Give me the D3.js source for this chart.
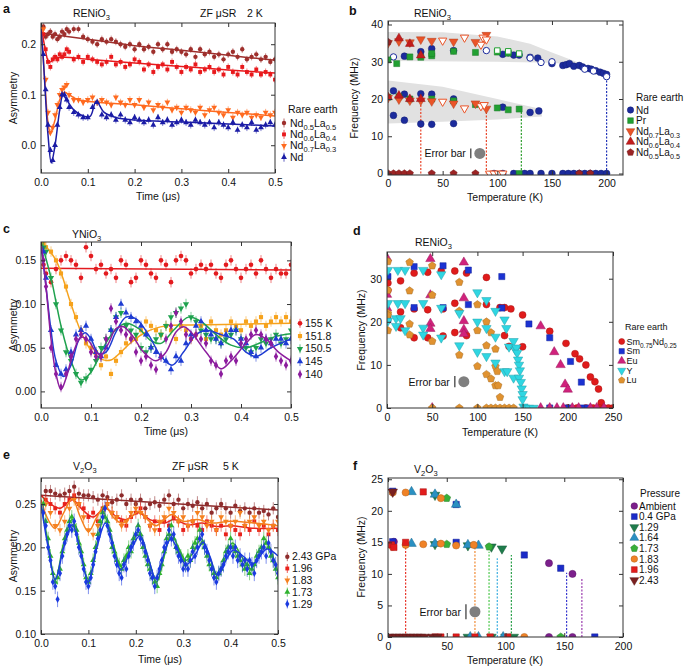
<!DOCTYPE html>
<html>
<head>
<meta charset="utf-8">
<script src="https://cdn.jsdelivr.net/npm/d3@7"></script>
<style>
  body { margin: 0; background: #fff; }
  svg { font-family: "Liberation Sans", Arial, sans-serif; }
</style>
</head>
<body>
<script>
// ---------------- data ----------------
// panel a : RENiO3 ZF muSR 2 K
var tA = [0.005,0.01,0.015,0.02,0.025,0.03,0.035,0.04,0.045,0.05,0.055,0.06,
  0.07,0.08,0.09,0.10,0.11,0.12,0.13,0.14,0.15,0.16,0.17,0.18,0.19,0.20,
  0.21,0.22,0.23,0.24,0.25,0.26,0.27,0.28,0.29,0.30,
  0.31,0.32,0.33,0.34,0.35,0.36,0.37,0.38,0.39,0.40,
  0.41,0.42,0.43,0.44,0.45,0.46,0.47,0.48,0.49,0.50];
var aNd55 = [0.235,0.215,0.22,0.225,0.215,0.22,0.21,0.215,0.225,0.22,0.23,0.225,
  0.23,0.23,0.215,0.21,0.205,0.20,0.21,0.205,0.21,0.205,0.20,0.195,0.20,0.19,
  0.20,0.19,0.195,0.185,0.20,0.19,0.20,0.185,0.19,0.185,
  0.18,0.19,0.175,0.19,0.18,0.185,0.175,0.18,0.17,0.18,
  0.185,0.175,0.19,0.17,0.175,0.18,0.17,0.175,0.165,0.17];
var aNd64 = [0.22,0.19,0.165,0.155,0.17,0.175,0.17,0.18,0.175,0.18,0.19,0.185,
  0.17,0.175,0.165,0.175,0.17,0.165,0.16,0.165,0.175,0.16,0.165,0.155,0.16,0.17,
  0.165,0.15,0.16,0.145,0.155,0.16,0.15,0.165,0.155,0.145,
  0.155,0.15,0.16,0.145,0.15,0.155,0.145,0.15,0.14,0.155,
  0.145,0.14,0.155,0.145,0.14,0.15,0.14,0.145,0.14,0.13];
var aNd73 = [0.23,0.13,0.065,0.025,0.035,0.06,0.08,0.10,0.11,0.115,0.12,0.10,
  0.09,0.09,0.085,0.09,0.095,0.085,0.09,0.085,0.08,0.095,0.085,0.08,0.09,0.08,
  0.09,0.075,0.085,0.07,0.08,0.075,0.085,0.07,0.075,0.065,
  0.075,0.07,0.065,0.075,0.06,0.07,0.075,0.065,0.06,0.07,
  0.055,0.065,0.06,0.065,0.055,0.06,0.055,0.065,0.06,0.065];
var aNd = [0.18,0.11,0.04,-0.01,-0.03,0.0,0.04,0.075,0.10,0.10,0.09,0.075,
  0.065,0.06,0.055,0.055,0.075,0.085,0.06,0.055,0.06,0.05,0.06,0.05,0.045,0.055,
  0.05,0.045,0.05,0.04,0.055,0.045,0.05,0.04,0.045,0.05,
  0.045,0.04,0.05,0.045,0.04,0.045,0.035,0.045,0.04,0.035,
  0.045,0.03,0.04,0.035,0.045,0.03,0.035,0.04,0.045,0.04];
var fitANd55 = [[0,0.222],[0.1,0.21],[0.2,0.197],[0.3,0.188],[0.4,0.178],[0.5,0.168]];
var fitANd64 = [[0,0.235],[0.005,0.21],[0.01,0.185],[0.015,0.168],[0.02,0.165],[0.03,0.172],[0.05,0.174],[0.1,0.17],[0.2,0.163],[0.3,0.156],[0.4,0.149],[0.5,0.143]];
var fitANd73 = [[0,0.232],[0.005,0.17],[0.01,0.1],[0.015,0.045],[0.02,0.025],[0.03,0.05],[0.04,0.09],[0.05,0.105],[0.06,0.1],[0.08,0.09],[0.12,0.085],[0.2,0.08],[0.3,0.072],[0.4,0.065],[0.5,0.058]];
var fitANd = [[0,0.23],[0.005,0.17],[0.01,0.09],[0.015,0.02],[0.022,-0.035],[0.03,0.0],[0.04,0.07],[0.047,0.1],[0.055,0.09],[0.07,0.07],[0.09,0.058],[0.105,0.057],[0.118,0.087],[0.135,0.065],[0.16,0.055],[0.2,0.05],[0.3,0.046],[0.4,0.042],[0.5,0.038]];
var legendA = ["Nd_{0.5}La_{0.5}", "Nd_{0.6}La_{0.4}", "Nd_{0.7}La_{0.3}", "Nd"];

// panel b : RENiO3 frequency vs temperature  [T (K), f (MHz)]
var bNd = [[15,31.5],[30,32.7],[40,33.5],[60,33],[105,32],[115,31.8],[120,31.8],[130,31.2],[137,31],[150,29.5],[160,29],[163,29.2],[166,29.5],[170,28.8],[175,29],[178,28.6],[183,28.2],[186,28],[190,27.6],[194,27.2],[197,26.9],[200,26.6],
  [5,22.2],[15,21.3],[30,21.4],[40,21.3],[60,20],[105,17.8],[130,16.4],[138,16.8],[5,15.6],[15,14.3],[30,13.3],[40,13.2],[60,13.4],
  [97,0],[105,0],[115,0],[125,0],[130,0],[140,0],[150,0],[160,0],[165,0],[170,0],[175,0],[180,0],[185,0],[190,0],[195,0],[200,0]];
var bNdOpen = [[5,31.3],[90,33],[110,32.4],[130,31],[140,29.8],[150,30],[180,28],[188,27.5],[200,26]];
var bPr = [[0,30.5],[8,29.5],[20,31.3],[30,31.2],[40,31.6],[40,32.2],[60,32.8],[80,32.5],[100,32.6],[110,32.3],
  [0,20.5],[10,20.6],[20,20],[40,20],[60,19.5],[80,18.5],[100,17.6],[110,17.1],[120,17.3],[120,0]];
var bPrOpen = [[100,33],[110,32.8],[120,32.2]];
var bNd73 = [[0,35],[10,35.5],[20,35.2],[30,36],[40,35.6],[60,35.4],[80,35.3],[90,37.2],
  [0,20.3],[10,19.9],[20,19.6],[30,19.6],[40,19.4],[60,18.8],[80,18.8],[90,17.4]];
var bNd73Open = [[50,35.7],[70,36.5],[85,34.6],[87,36.5],[90,36],[50,19.3],[70,17.5],[85,18.1],[88,18.4],[93,0],[97,0],[101,0],[105,0]];
var bNd64 = [[10,36.3],[20,34.8],[30,31.7],[0,20.5],[10,20.9],[20,20],[30,20]];
var bNd55 = [[0,35.3],[0,0],[5,0],[10,0],[15,0],[20,0],[40,0],[60,0],[80,0],[175,0],[185,0]];
var bBandUpper = [[0,38],[50,37.9],[100,36.8],[130,34.8],[150,32.5],[170,30.3],[190,27.9],[200,26.3],[200,25.7],[190,27],[180,28.3],[165,29.3],[150,29.7],[100,30],[0,30.2]];
var bBandLower = [[0,25],[50,23.3],[100,20],[140,17.3],[141,15.3],[100,14.5],[50,13.9],[0,13.4]];
var bTransitions = [[30,20],[90,17.5],[122,17],[200,26.5]];   // [T, top f]
var bErrorBar = [84, 5.4, 1.3];                                  // [T, f, half error]
var legendB = ["Nd", "Pr", "Nd_{0.7}La_{0.3}", "Nd_{0.6}La_{0.4}", "Nd_{0.5}La_{0.5}"];

// panel c : YNiO3
var tC = [0.005,0.01,0.02,0.03,0.04,0.05,0.06,0.07,0.08,0.09,0.10,
  0.11,0.12,0.13,0.14,0.15,0.16,0.17,0.18,0.19,0.20,
  0.21,0.22,0.23,0.24,0.25,0.26,0.27,0.28,0.29,0.30,
  0.31,0.32,0.33,0.34,0.35,0.36,0.37,0.38,0.39,0.40,
  0.41,0.42,0.43,0.44,0.45,0.46,0.47,0.48,0.49,0.50];
var c155 = [0.145, 0.135,0.125,0.14,0.15,0.155,0.15,0.145,0.13,0.165,0.155,
  0.14,0.145,0.135,0.14,0.13,0.15,0.145,0.125,0.13,0.15,
  0.145,0.135,0.13,0.15,0.145,0.125,0.15,0.155,0.15,0.135,
  0.14,0.145,0.14,0.145,0.135,0.13,0.145,0.15,0.14,0.13,
  0.14,0.145,0.135,0.15,0.14,0.13,0.14,0.135,0.135,0.145];
var c1518 = [0.17, 0.165,0.16,0.15,0.135,0.12,0.10,0.085,0.07,0.055,0.05,
  0.045,0.03,0.04,0.02,0.035,0.045,0.055,0.06,0.06,0.07,
  0.08,0.075,0.07,0.065,0.075,0.07,0.06,0.075,0.07,0.06,
  0.065,0.075,0.06,0.08,0.07,0.065,0.07,0.08,0.075,0.07,
  0.08,0.075,0.08,0.085,0.075,0.08,0.085,0.08,0.085,0.08];
var c1505 = [0.165, 0.16,0.13,0.10,0.07,0.045,0.035,0.02,0.01,0.015,0.025,
  0.035,0.05,0.06,0.07,0.085,0.09,0.075,0.07,0.065,0.05,
  0.045,0.05,0.06,0.065,0.075,0.085,0.09,0.095,0.10,0.085,
  0.08,0.07,0.065,0.06,0.06,0.055,0.06,0.065,0.07,0.06,
  0.05,0.045,0.05,0.06,0.055,0.06,0.065,0.055,0.06,0.07];
var c145 = [0.16, 0.13,0.07,0.03,0.02,0.025,0.045,0.065,0.07,0.075,0.06,
  0.045,0.04,0.05,0.07,0.085,0.10,0.09,0.085,0.08,0.075,
  0.065,0.05,0.045,0.04,0.035,0.025,0.04,0.035,0.055,0.065,
  0.075,0.08,0.07,0.065,0.06,0.055,0.065,0.07,0.07,0.06,
  0.055,0.045,0.04,0.05,0.06,0.055,0.06,0.06,0.055,0.06];
var c140 = [0.15, 0.12,0.05,0.02,0.005,0.02,0.04,0.06,0.065,0.06,0.045,
  0.04,0.04,0.06,0.095,0.08,0.07,0.065,0.06,0.045,0.035,
  0.04,0.03,0.025,0.04,0.06,0.075,0.09,0.08,0.065,0.06,
  0.065,0.06,0.055,0.035,0.03,0.02,0.035,0.04,0.035,0.055,
  0.06,0.065,0.07,0.065,0.06,0.055,0.04,0.035,0.03,0.035];
var fitC155 = [[0,0.141],[0.5,0.139]];
var fitC1518 = [[0,0.172],[0.03,0.15],[0.06,0.1],[0.08,0.068],[0.1,0.047],[0.12,0.037],[0.14,0.036],[0.16,0.045],[0.18,0.056],[0.21,0.068],[0.25,0.075],[0.3,0.076],[0.4,0.077],[0.5,0.078]];
var fitC1505 = [[0,0.172],[0.02,0.13],[0.04,0.075],[0.06,0.035],[0.08,0.013],[0.1,0.022],[0.12,0.045],[0.145,0.068],[0.17,0.078],[0.195,0.072],[0.22,0.058],[0.24,0.055],[0.265,0.07],[0.295,0.085],[0.32,0.08],[0.35,0.065],[0.38,0.053],[0.41,0.05],[0.44,0.056],[0.47,0.063],[0.5,0.066]];
var fitC145 = [[0,0.17],[0.01,0.12],[0.02,0.07],[0.03,0.035],[0.045,0.017],[0.06,0.03],[0.075,0.058],[0.088,0.067],[0.1,0.06],[0.115,0.043],[0.13,0.045],[0.15,0.068],[0.17,0.085],[0.19,0.083],[0.215,0.065],[0.24,0.04],[0.262,0.03],[0.285,0.045],[0.31,0.065],[0.33,0.07],[0.36,0.065],[0.385,0.06],[0.41,0.045],[0.43,0.04],[0.46,0.05],[0.5,0.06]];
var fitC140 = [[0,0.17],[0.01,0.12],[0.02,0.06],[0.03,0.02],[0.04,0.002],[0.05,0.015],[0.065,0.045],[0.08,0.062],[0.095,0.058],[0.11,0.045],[0.12,0.042],[0.135,0.055],[0.15,0.072],[0.165,0.074],[0.185,0.062],[0.205,0.045],[0.23,0.035],[0.25,0.045],[0.27,0.068],[0.285,0.074],[0.3,0.068],[0.33,0.045],[0.36,0.026],[0.38,0.035],[0.41,0.055],[0.43,0.065],[0.45,0.06],[0.475,0.045],[0.5,0.035]];
var legendC = ["155 K", "151.8", "150.5", "145", "140"];

// panel d : RENiO3 frequency vs temperature
var dSm75 = [[1,29],[1,27.3],[15,29.5],[30,31.3],[45,31.5],[60,31.8],[75,31.8],[88,31.3],[110,30.3],[15,22.3],[30,23],[45,22.8],[62,23],[75,24.3],[110,24],[125,23.3],[130,23.3],[137,23],[150,21.6],
  [15,18.6],[30,16.3],[45,16.3],[62,16.7],[75,17.5],[88,16.8],[130,16.8],[135,14.3],[150,14.2],[180,17.8],[198,15],[208,12.6],[213,11.4],[220,10],[225,7.2],[230,6.1],[234,4.4],[237,1.2],
  [200,0],[210,0],[220,0],[228,0],[235,0],[240,0],[245,0],[250,0]];
var dSm = [[1,30.5],[30,32.8],[62,33],[90,32],[127,30.5],[1,20.5],[30,23.3],[62,23.3],[90,24],[127,23.2],[157,19.5],[180,16.3],[203,10.8],[215,6],[180,0],[200,0],[215,0],[222,0]];
var dEu = [[0,34.8],[48,34.6],[85,33.8],[0,26.3],[0,23.2],[48,26.2],[85,25.5],[48,19.6],[48,18.4],[85,20.2],[85,18.2],[85,17.2],[170,19],[185,13],[192,10],[197,5.5],[200,4.3],
  [50,0],[170,0],[180,0],[188,0],[195,0],[205,0],[212,0],[225,0],[232,0],[240,0]];
var dY = [[1,32],[12,32],[20,32],[40,32],[60,31],[1,24.3],[12,24.3],[20,24.3],[40,24.3],[60,23.2],[1,20.2],[10,20.8],[15,20.8],[10,19],[20,18],[40,18.6],[40,17],[60,16.3],
  [80,22],[80,14.5],[100,26.8],[100,20],[100,13],[110,25],[110,18.5],[110,12],[120,22.5],[120,16.5],[120,10.5],[130,20.5],[132,18.5],[135,14.2],[130,8.5],[133,8.5],
  [140,15.5],[142,13.5],[140,7],[143,14],[144,12.8],[145,11.2],[146,10],[147,8.7],[146,7],[148,6],[149,4.5],[150,3.2],[150,2],[151,0.3],[153,0],[157,0],[162,0]];
var dLu = [[1,34],[25,33.8],[50,33],[1,27.3],[25,27.2],[50,26.2],[1,22],[1,21.5],[1,18],[25,19.5],[25,17],[50,15.5],[80,29.2],[80,22.5],[80,12.3],[100,24],[100,18],[100,9.7],
  [110,20],[110,14.5],[110,7.8],[115,17.5],[115,6.8],[120,13.7],[120,9.7],[122,8.5],[120,5.2],[123,5.2],[125,2.5],
  [50,0],[80,0],[100,0],[110,0],[115,0],[120,0],[125,0],[130,0],[135,0],[140,0]];
var dErrorBar = [85, 6.1, 1.3];
var legendD = ["Sm_{0.75}Nd_{0.25}", "Sm", "Eu", "Y", "Lu"];

// panel e : V2O3 ZF muSR 5 K
var tE = [0.01,0.02,0.03,0.04,0.05,0.06,0.07,0.08,0.09,0.10,
  0.11,0.12,0.13,0.14,0.15,0.16,0.17,0.18,0.19,0.20,
  0.21,0.22,0.23,0.24,0.25,0.26,0.27,0.28,0.29,0.30,
  0.31,0.32,0.33,0.34,0.35,0.36,0.37,0.38,0.39,0.40,
  0.41,0.42,0.43,0.44,0.45,0.46,0.47,0.48,0.49,0.50];
var tEf = [0.005,0.01,0.015,0.02,0.025,0.03,0.035,0.04,0.045,0.05,
  0.055,0.06,0.065,0.07,0.075,0.08,0.085,0.09,0.095,0.10,
  0.105,0.11,0.115,0.12,0.125,0.13,0.135,0.14,0.145,0.15,
  0.155,0.16,0.165,0.17,0.175,0.18,0.185,0.19,0.195,0.20,
  0.205,0.21,0.215,0.22,0.225,0.23,0.235,0.24,0.245,0.25,
  0.255,0.26,0.265,0.27,0.275,0.28,0.285,0.29,0.295,0.30,
  0.305,0.31,0.315,0.32,0.325,0.33,0.335,0.34,0.345,0.35,
  0.355,0.36,0.365,0.37,0.375,0.38,0.385,0.39,0.395,0.40,
  0.405,0.41,0.415,0.42,0.425,0.43,0.435,0.44,0.445,0.45,
  0.455,0.46,0.465,0.47,0.475,0.48,0.485,0.49,0.495,0.50];
var e243 = [0.265,0.265,0.262,0.26,0.262,0.265,0.27,0.262,0.26,0.26,
  0.258,0.255,0.26,0.258,0.252,0.255,0.26,0.25,0.255,0.25,
  0.255,0.245,0.25,0.252,0.248,0.255,0.26,0.25,0.255,0.245,
  0.25,0.248,0.252,0.245,0.25,0.24,0.245,0.25,0.245,0.24,
  0.248,0.242,0.245,0.24,0.245,0.24,0.242,0.238,0.245,0.235];
var e196 = [0.255,0.25,0.245,0.24,0.25,0.255,0.26,0.25,0.245,0.235,
  0.24,0.23,0.245,0.25,0.24,0.235,0.23,0.225,0.235,0.24,
  0.245,0.235,0.225,0.23,0.22,0.23,0.225,0.235,0.23,0.22,
  0.225,0.23,0.225,0.22,0.23,0.225,0.22,0.225,0.215,0.225,
  0.22,0.215,0.225,0.22,0.23,0.22,0.225,0.215,0.225,0.22];
var e183 = [0.25,0.24,0.225,0.22,0.23,0.245,0.255,0.25,0.235,0.22,
  0.215,0.225,0.24,0.25,0.24,0.235,0.225,0.23,0.24,0.245,
  0.24,0.235,0.225,0.22,0.23,0.235,0.245,0.24,0.23,0.235,
  0.225,0.23,0.24,0.235,0.225,0.23,0.22,0.235,0.23,0.225,
  0.23,0.24,0.225,0.23,0.235,0.225,0.23,0.22,0.225,0.23];
var e173 = [0.25,0.23,0.21,0.19,0.17,0.16,0.165,0.175,0.195,0.21,
  0.22,0.23,0.235,0.225,0.22,0.205,0.195,0.18,0.165,0.16,
  0.17,0.185,0.2,0.215,0.23,0.24,0.235,0.23,0.22,0.2,
  0.195,0.185,0.18,0.175,0.185,0.19,0.2,0.195,0.21,0.215,
  0.225,0.215,0.2,0.19,0.18,0.175,0.165,0.16,0.155,0.17,
  0.18,0.195,0.21,0.215,0.225,0.21,0.2,0.195,0.19,0.185,
  0.18,0.19,0.185,0.2,0.205,0.21,0.22,0.205,0.2,0.19,
  0.18,0.175,0.17,0.165,0.17,0.175,0.185,0.195,0.2,0.21,
  0.2,0.195,0.19,0.185,0.18,0.175,0.18,0.17,0.175,0.18,
  0.19,0.195,0.2,0.21,0.205,0.2,0.19,0.185,0.175,0.165];
var e129 = [0.24,0.225,0.2,0.185,0.16,0.155,0.14,0.17,0.19,0.205,
  0.215,0.225,0.22,0.23,0.215,0.2,0.19,0.175,0.16,0.155,
  0.165,0.18,0.195,0.21,0.22,0.235,0.245,0.225,0.215,0.205,
  0.19,0.18,0.17,0.165,0.18,0.175,0.19,0.2,0.205,0.215,
  0.22,0.21,0.205,0.195,0.185,0.17,0.165,0.155,0.165,0.175,
  0.185,0.2,0.205,0.22,0.21,0.215,0.2,0.19,0.185,0.175,
  0.18,0.175,0.185,0.195,0.19,0.2,0.21,0.215,0.2,0.195,
  0.185,0.175,0.165,0.16,0.17,0.175,0.18,0.19,0.195,0.2,
  0.19,0.2,0.185,0.19,0.18,0.185,0.175,0.185,0.18,0.17,
  0.185,0.19,0.195,0.2,0.19,0.205,0.195,0.185,0.18,0.17];
var fitE243 = [[0,0.26],[0.25,0.2515],[0.5,0.243]];
var fitE196 = [[0,0.26],[0.02,0.25],[0.04,0.245],[0.066,0.255],[0.09,0.242],[0.11,0.235],[0.135,0.245],[0.16,0.235],[0.18,0.232],[0.205,0.24],[0.23,0.232],[0.26,0.228],[0.28,0.232],[0.31,0.226],[0.34,0.228],[0.37,0.224],[0.4,0.225],[0.45,0.222],[0.5,0.222]];
var fitE183 = [[0,0.255],[0.015,0.232],[0.03,0.222],[0.048,0.24],[0.066,0.256],[0.083,0.235],[0.1,0.218],[0.118,0.235],[0.135,0.248],[0.152,0.235],[0.17,0.228],[0.19,0.235],[0.208,0.242],[0.225,0.232],[0.243,0.225],[0.26,0.232],[0.276,0.238],[0.3,0.23],[0.33,0.232],[0.36,0.228],[0.4,0.23],[0.45,0.228],[0.5,0.225]];
var fitE173 = [[0,0.25],[0.015,0.205],[0.03,0.162],[0.048,0.205],[0.066,0.232],[0.083,0.2],[0.1,0.16],[0.118,0.205],[0.134,0.235],[0.152,0.205],[0.168,0.178],[0.188,0.2],[0.206,0.218],[0.225,0.19],[0.244,0.16],[0.26,0.19],[0.275,0.215],[0.29,0.2],[0.306,0.185],[0.322,0.195],[0.338,0.21],[0.355,0.19],[0.372,0.168],[0.39,0.19],[0.404,0.205],[0.425,0.188],[0.442,0.175],[0.46,0.19],[0.475,0.205],[0.5,0.17]];
var fitE129 = [[0,0.25],[0.015,0.2],[0.03,0.163],[0.048,0.2],[0.066,0.226],[0.083,0.195],[0.1,0.16],[0.118,0.2],[0.136,0.228],[0.152,0.2],[0.168,0.174],[0.188,0.195],[0.208,0.213],[0.225,0.19],[0.242,0.164],[0.258,0.19],[0.274,0.21],[0.29,0.195],[0.306,0.18],[0.324,0.19],[0.342,0.206],[0.356,0.19],[0.372,0.168],[0.39,0.185],[0.406,0.197],[0.426,0.19],[0.447,0.181],[0.462,0.19],[0.477,0.198],[0.5,0.19]];
var legendE = ["2.43 GPa", "1.96", "1.83", "1.73", "1.29"];

// panel f : V2O3 frequency vs temperature
var fAmb = [[5,15.1],[137,11.7],[157,10],[137,0],[157,0]];
var f04 = [[4,23.1],[4,15.1],[58,21],[58,15],[116,13],[147,10.9],[176,0]];
var f129 = [[40,22.5],[40,14.7],[68,14.5],[88,14.3],[97,14],[68,0],[88,0],[100,0],[107,0]];
var f164 = [[20,23],[40,22.6],[58,21],[20,14.8],[40,14.8],[68,14.6],[77,14.5],[70,0],[77,0],[98,0]];
var f173 = [[50,22],[50,14.7],[86,14.3],[147,0]];
var f183 = [[4,22.9],[15,22.9],[45,22],[4,14.3],[15,14.6],[30,14.7],[45,14.8],[58,14.5],[73,14.6],[116,0]];
var f196 = [[3,14.6],[5,14.2],[15,15],[30,23],[40,0],[45,0],[58,0],[74,0],[87,0],[102,0]];
var f243 = [[4,23],[1,0],[4,0],[7,0],[10,0],[13,0],[16,0],[19,0],[22,0],[25,0],[28,0],[31,0],[38,0],[42,0]];
var fTransitions = [[15,14.7],[74,14.6],[86,13.5],[93,12.5],[105,13],[152,10.2],[165,9.3]];
var fErrorBar = [74, 4.0, 1.2];
var legendF = ["Ambient", "0.4 GPa", "1.29", "1.64", "1.73", "1.83", "1.96", "2.43"];

// ---------------- drawing ----------------
var svg = d3.select("body").append("svg").attr("width", 685).attr("height", 666);

var pentagon = {
  draw: function(ctx, size) {
    var r = Math.sqrt(size / 2.378);
    for (var i = 0; i < 5; i++) {
      var a = -Math.PI / 2 + i * 2 * Math.PI / 5;
      if (i == 0) ctx.moveTo(r * Math.cos(a), r * Math.sin(a));
      else ctx.lineTo(r * Math.cos(a), r * Math.sin(a));
    }
    ctx.closePath();
  }
};
var shapes = {
  circle: d3.symbolCircle, square: d3.symbolSquare, up: d3.symbolTriangle,
  down: d3.symbolTriangle, diamond: d3.symbolDiamond, pentagon: pentagon
};

function symTransform(x, y, shape) {
  return "translate(" + x + "," + y + ")" + (shape == "down" ? " rotate(180)" : "");
}

// rich text with _{subscript}
function rich(t, str) {
  var parts = str.split(/(_\{[^}]*\})/);
  var shifted = false;
  parts.forEach(function(s) {
    if (!s) return;
    if (s[0] == "_") {
      t.append("tspan").attr("font-size", "0.72em").attr("dy", shifted ? 0 : 3).text(s.slice(2, -1));
      shifted = true;
    } else {
      var sp = t.append("tspan").text(s);
      if (shifted) { sp.attr("dy", -3); shifted = false; }
    }
  });
  return t;
}

function label(x, y, str, opt) {
  opt = opt || {};
  var t = svg.append("text").attr("x", x).attr("y", y)
    .attr("font-size", opt.size || 10.5).attr("fill", "#111")
    .attr("text-anchor", opt.anchor || "start");
  if (opt.bold) t.attr("font-weight", "bold");
  if (opt.rotate) t.attr("transform", "rotate(-90," + x + "," + y + ")");
  return rich(t, str);
}

var clipCount = 0;
function makePanel(c) {
  var x = d3.scaleLinear().domain(c.xd).range([c.left, c.right]);
  var y = d3.scaleLinear().domain(c.yd).range([c.bottom, c.top]);
  var g = svg.append("g");
  var id = "clip" + (clipCount++);
  g.append("clipPath").attr("id", id).append("rect")
    .attr("x", c.left).attr("y", c.top)
    .attr("width", c.right - c.left).attr("height", c.bottom - c.top);
  var plot = g.append("g").attr("clip-path", "url(#" + id + ")");
  var none = function() { return ""; };
  var axes = [
    [d3.axisBottom(x).tickValues(c.xt).tickFormat(c.xf).tickPadding(c.xpad || 6), "translate(0," + c.bottom + ")"],
    [d3.axisTop(x).tickValues(c.xt).tickFormat(none), "translate(0," + c.top + ")"],
    [d3.axisLeft(y).tickValues(c.yt).tickFormat(c.yf).tickPadding(5), "translate(" + c.left + ",0)"],
    [d3.axisRight(y).tickValues(c.yt).tickFormat(none), "translate(" + c.right + ",0)"]
  ];
  axes.forEach(function(a) {
    var ag = g.append("g").attr("transform", a[1])
      .call(a[0].tickSizeInner(-4).tickSizeOuter(0));
    ag.attr("font-family", null).attr("font-size", 10.5);
    ag.select(".domain").remove();
    ag.selectAll("line").attr("stroke", "#333");
    ag.selectAll("text").attr("fill", "#111");
  });
  g.append("rect").attr("x", c.left).attr("y", c.top)
    .attr("width", c.right - c.left).attr("height", c.bottom - c.top)
    .attr("fill", "none").attr("stroke", "#333").attr("stroke-width", 1);
  return { x: x, y: y, g: g, plot: plot };
}

function drawPts(p, pts, o) {
  var gg = p.plot.append("g");
  if (o.err) {
    gg.selectAll("line").data(pts).join("line")
      .attr("x1", function(d) { return p.x(d[0]); })
      .attr("x2", function(d) { return p.x(d[0]); })
      .attr("y1", function(d) { return p.y(d[1] - o.err); })
      .attr("y2", function(d) { return p.y(d[1] + o.err); })
      .attr("stroke", o.color).attr("stroke-width", 1).attr("opacity", 0.55);
  }
  gg.selectAll("path").data(pts).join("path")
    .attr("d", d3.symbol().type(shapes[o.shape]).size(o.size))
    .attr("transform", function(d) { return symTransform(p.x(d[0]), p.y(d[1]), o.shape); })
    .attr("fill", o.open ? "#fff" : o.color)
    .attr("stroke", o.open ? o.color : (o.outline ? d3.color(o.color).darker(0.8) : "none"))
    .attr("stroke-width", o.open ? 1 : 0.5);
}

function drawSeries(p, ts, vs, o) {
  drawPts(p, ts.map(function(t, i) { return [t, vs[i]]; }), o);
}

function drawFit(p, knots, color) {
  p.plot.append("path").datum(knots)
    .attr("d", d3.line().x(function(d) { return p.x(d[0]); })
      .y(function(d) { return p.y(d[1]); }).curve(d3.curveCatmullRom.alpha(0.5)))
    .attr("fill", "none").attr("stroke", color).attr("stroke-width", 1.5);
}

function drawTransitions(p, lines, colors) {
  p.plot.append("g").selectAll("line").data(lines).join("line")
    .attr("x1", function(d) { return p.x(d[0]); })
    .attr("x2", function(d) { return p.x(d[0]); })
    .attr("y1", p.y(0)).attr("y2", function(d) { return p.y(d[1]); })
    .attr("stroke", function(d, i) { return colors[i]; })
    .attr("stroke-width", 1.2).attr("stroke-dasharray", "2,1.5");
}

function drawErrorNote(p, e) {
  var cx = p.x(e[0]), cy = p.y(e[1]);
  p.g.append("circle").attr("cx", cx).attr("cy", cy).attr("r", 5.5).attr("fill", "#7f7f7f");
  p.g.append("line").attr("x1", cx - 9).attr("x2", cx - 9)
    .attr("y1", p.y(e[1] - e[2])).attr("y2", p.y(e[1] + e[2]))
    .attr("stroke", "#333").attr("stroke-width", 1.2);
  p.g.append("text").attr("x", cx - 14).attr("y", cy + 3.8)
    .attr("text-anchor", "end").attr("font-size", 10.5).attr("fill", "#111").text("Error bar");
}

function legend(texts, styles, o) {
  var lg = svg.append("g");
  var fs = o.font || 10.5;
  if (o.title) label(o.titleX, o.titleY, o.title, { size: fs });
  texts.forEach(function(txt, i) {
    var st = styles[i];
    var cy = o.y0 + i * o.dy;
    if (o.err) {
      lg.append("line").attr("x1", o.mx).attr("x2", o.mx)
        .attr("y1", cy - 4.5).attr("y2", cy + 4.5)
        .attr("stroke", st.color).attr("stroke-width", 1).attr("opacity", 0.7);
    }
    lg.append("path").attr("d", d3.symbol().type(shapes[st.shape]).size(o.size))
      .attr("transform", symTransform(o.mx, cy, st.shape))
      .attr("fill", st.color)
      .attr("stroke", o.outline ? d3.color(st.color).darker(0.8) : "none").attr("stroke-width", 0.5);
    label(o.tx, cy + fs * 0.35, txt, { size: fs });
  });
}

var f1 = d3.format(".1f"), f2 = d3.format(".2f"), f0 = d3.format("d");

// ---- panel a ----
var pa = makePanel({ left: 41, right: 275, top: 23, bottom: 173, xd: [0, 0.5], yd: [-0.055, 0.242],
  xt: [0, 0.1, 0.2, 0.3, 0.4, 0.5], yt: [0, 0.1, 0.2], xf: f1, yf: f1 });
var stA = [{ color: "#9e2f2c", shape: "circle" }, { color: "#e8191c", shape: "square" },
  { color: "#ff6a1f", shape: "down" }, { color: "#1b1ca6", shape: "up" }];
[aNd55, aNd64, aNd73, aNd].forEach(function(v, i) {
  drawSeries(pa, tA, v, { color: stA[i].color, shape: stA[i].shape, size: 15, err: 0.007 });
  drawFit(pa, [fitANd55, fitANd64, fitANd73, fitANd][i], stA[i].color);
});
label(3, 13, "a", { bold: true, size: 12.5 });
label(73, 17, "RENiO_{3}");
label(200, 17, "ZF μSR");
label(247, 17, "2 K");
label(158, 200, "Time (μs)", { anchor: "middle" });
label(17, 98, "Asymmetry", { anchor: "middle", rotate: true });
legend(legendA, stA, { title: "Rare earth", titleX: 288, titleY: 113, mx: 284, tx: 290, y0: 123, dy: 11.4, size: 15, err: true });

// ---- panel b ----
var pb = makePanel({ left: 388, right: 623, top: 21, bottom: 175, xd: [0, 215], yd: [-0.4, 40.94],
  xt: [0, 50, 100, 150, 200], yt: [0, 10, 20, 30, 40], xf: f0, yf: f0, xpad: 5 });
[bBandUpper, bBandLower].forEach(function(band) {
  pb.plot.append("path").datum(band)
    .attr("d", d3.line().x(function(d) { return pb.x(d[0]); }).y(function(d) { return pb.y(d[1]); }).curve(d3.curveLinearClosed))
    .attr("fill", "#e1e1e1");
});
drawTransitions(pb, bTransitions, ["#e8452a", "#e8452a", "#2e9e2e", "#2436b8"]);
var stB = [{ color: "#1c2b9c", shape: "circle" }, { color: "#22a032", shape: "square" },
  { color: "#ea5428", shape: "down" }, { color: "#c41d1d", shape: "up" }, { color: "#9c2424", shape: "pentagon" }];
drawPts(pb, bNd, { color: stB[0].color, shape: "circle", size: 36, outline: true });
drawPts(pb, bNdOpen, { color: stB[0].color, shape: "circle", size: 32, open: true });
drawPts(pb, bPr, { color: stB[1].color, shape: "square", size: 36, outline: true });
drawPts(pb, bPrOpen, { color: stB[1].color, shape: "square", size: 30, open: true });
drawPts(pb, bNd73, { color: stB[2].color, shape: "down", size: 34, outline: true });
drawPts(pb, bNd73Open, { color: stB[2].color, shape: "down", size: 30, open: true });
drawPts(pb, bNd64, { color: stB[3].color, shape: "up", size: 34, outline: true });
drawPts(pb, bNd55, { color: stB[4].color, shape: "pentagon", size: 34, outline: true });
drawErrorNote(pb, bErrorBar);
label(349, 15, "b", { bold: true, size: 12.5 });
label(414, 17, "RENiO_{3}");
label(505, 201, "Temperature (K)", { anchor: "middle" });
label(358, 98, "Frequency (MHz)", { anchor: "middle", rotate: true });
legend(legendB, stB, { title: "Rare earth", titleX: 636, titleY: 100.8, mx: 630.5, tx: 636, y0: 110, dy: 10.6, size: 32, outline: true, font: 10 });

// ---- panel c ----
var pc = makePanel({ left: 41, right: 291, top: 242, bottom: 408, xd: [0, 0.5], yd: [-0.019, 0.171],
  xt: [0, 0.1, 0.2, 0.3, 0.4, 0.5], yt: [0, 0.05, 0.10, 0.15], xf: f1, yf: f2 });
var stC = [{ color: "#e31b1f", shape: "circle" }, { color: "#f6a21c", shape: "square" },
  { color: "#1fa24e", shape: "down" }, { color: "#1e3cd2", shape: "up" }, { color: "#8c1c9e", shape: "diamond" }];
[c155, c1518, c1505, c145, c140].forEach(function(v, i) {
  drawSeries(pc, tC, v, { color: stC[i].color, shape: stC[i].shape, size: 17, err: 0.006 });
  drawFit(pc, [fitC155, fitC1518, fitC1505, fitC145, fitC140][i], stC[i].color);
});
label(3, 233, "c", { bold: true, size: 12.5 });
label(72, 238, "YNiO_{3}");
label(166, 435, "Time (μs)", { anchor: "middle" });
label(17, 325, "Asymmetry", { anchor: "middle", rotate: true });
legend(legendC, stC, { mx: 300, tx: 305, y0: 323.3, dy: 12.75, size: 17, err: true });

// ---- panel d ----
var pd = makePanel({ left: 387, right: 613, top: 252, bottom: 408, xd: [0, 250], yd: [0, 36.2],
  xt: [0, 50, 100, 150, 200, 250], yt: [0, 10, 20, 30], xf: f0, yf: f0 });
var stD = [{ color: "#e01b1b", shape: "circle" }, { color: "#1b32d2", shape: "square" },
  { color: "#d0227c", shape: "up" }, { color: "#2fd6e2", shape: "down" }, { color: "#e09230", shape: "pentagon" }];
[dSm75, dSm, dEu, dLu, dY].forEach(function(v, i) {
  var st = [stD[0], stD[1], stD[2], stD[4], stD[3]][i];
  drawPts(pd, v, { color: st.color, shape: st.shape, size: 38, outline: true });
});
drawErrorNote(pd, dErrorBar);
label(353, 235, "d", { bold: true, size: 12.5 });
label(415, 245.5, "RENiO_{3}");
label(500, 436, "Temperature (K)", { anchor: "middle" });
label(365, 330, "Frequency (MHz)", { anchor: "middle", rotate: true });
legend(legendD, stD, { title: "Rare earth", titleX: 625, titleY: 330, mx: 621.7, tx: 626.5, y0: 341.5, dy: 9.7, size: 28, outline: true, font: 9 });

// ---- panel e ----
var pe = makePanel({ left: 41, right: 278, top: 478, bottom: 634, xd: [0, 0.5], yd: [0.10, 0.28],
  xt: [0, 0.1, 0.2, 0.3, 0.4, 0.5], yt: [0.10, 0.15, 0.20, 0.25], xf: f1, yf: f2 });
var stE = [{ color: "#8e2c2c", shape: "circle" }, { color: "#e8211b", shape: "square" },
  { color: "#f5801f", shape: "down" }, { color: "#2fb22f", shape: "up" }, { color: "#1b3ae0", shape: "diamond" }];
drawSeries(pe, tE, e243, { color: stE[0].color, shape: "circle", size: 15, err: 0.007 });
drawFit(pe, fitE243, stE[0].color);
drawSeries(pe, tE, e196, { color: stE[1].color, shape: "square", size: 15, err: 0.007 });
drawFit(pe, fitE196, stE[1].color);
drawSeries(pe, tE, e183, { color: stE[2].color, shape: "down", size: 15, err: 0.007 });
drawFit(pe, fitE183, stE[2].color);
drawSeries(pe, tEf, e173, { color: stE[3].color, shape: "up", size: 15, err: 0.008 });
drawFit(pe, fitE173, stE[3].color);
drawSeries(pe, tEf, e129, { color: stE[4].color, shape: "diamond", size: 15, err: 0.009 });
drawFit(pe, fitE129, stE[4].color);
label(3, 459, "e", { bold: true, size: 12.5 });
label(73, 470, "V_{2}O_{3}");
label(172, 470, "ZF μSR");
label(223, 470, "5 K");
label(160, 663, "Time (μs)", { anchor: "middle" });
label(17, 556, "Asymmetry", { anchor: "middle", rotate: true });
legend(legendE, stE, { mx: 287.3, tx: 292, y0: 556.7, dy: 11.8, size: 15, err: true });

// ---- panel f ----
var pf = makePanel({ left: 388, right: 623, top: 478, bottom: 637, xd: [0, 200], yd: [0, 25.2],
  xt: [0, 50, 100, 150, 200], yt: [0, 5, 10, 15, 20, 25], xf: f0, yf: f0 });
drawTransitions(pf, fTransitions, ["#e8352a", "#f08a34", "#4cc84c", "#3aaee0", "#2aa04a", "#3a3ad0", "#9a3aae"]);
var stF = [{ color: "#7c1f8c", shape: "circle" }, { color: "#1b2bc8", shape: "square" },
  { color: "#1f7c4c", shape: "down" }, { color: "#2a90c2", shape: "up" }, { color: "#38b038", shape: "pentagon" },
  { color: "#f08226", shape: "circle" }, { color: "#e21c1c", shape: "square" }, { color: "#7a2020", shape: "down" }];
[fAmb, f04, f129, f164, f173, f183, f196, f243].forEach(function(v, i) {
  drawPts(pf, v, { color: stF[i].color, shape: stF[i].shape, size: 40, outline: true });
});
drawErrorNote(pf, fErrorBar);
label(353, 470, "f", { bold: true, size: 12.5 });
label(414, 473, "V_{2}O_{3}");
label(505, 664, "Temperature (K)", { anchor: "middle" });
label(365, 557, "Frequency (MHz)", { anchor: "middle", rotate: true });
legend(legendF, stF, { title: "Pressure", titleX: 640, titleY: 497, mx: 634.3, tx: 639, y0: 506, dy: 10.6, size: 34, outline: true, font: 10 });
</script>
</body>
</html>
